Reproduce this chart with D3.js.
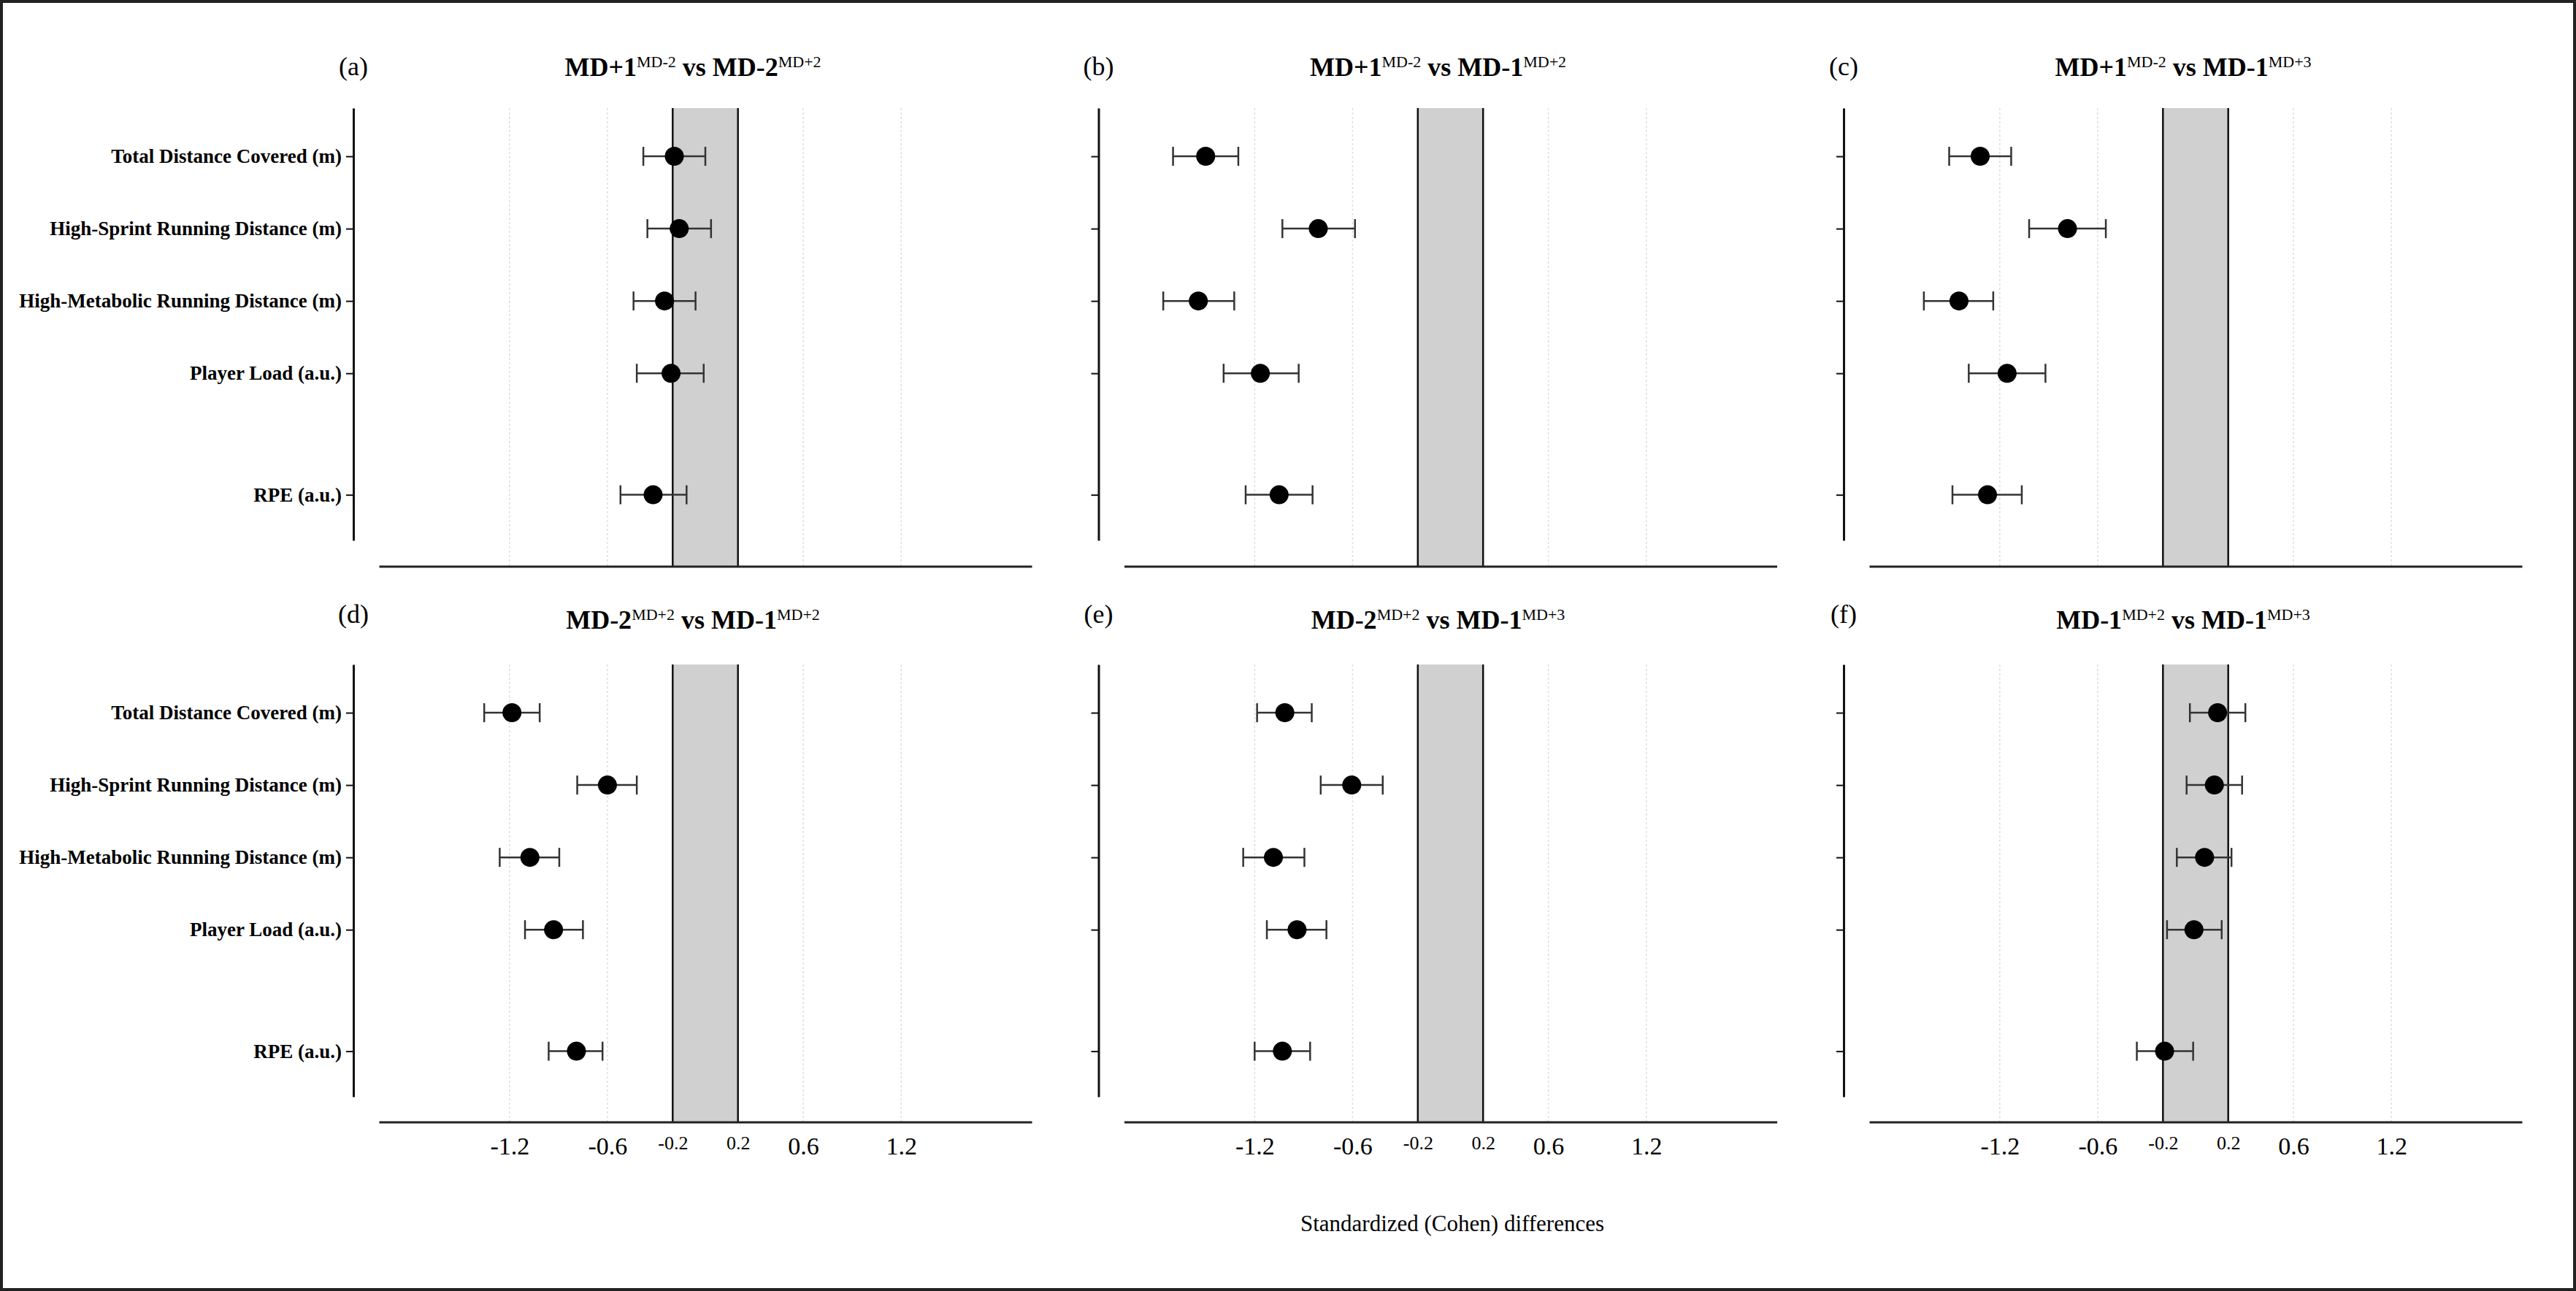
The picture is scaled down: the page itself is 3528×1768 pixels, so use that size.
<!DOCTYPE html>
<html>
<head>
<meta charset="utf-8">
<script src="https://cdn.jsdelivr.net/npm/d3@7"></script>
<style>
    body { margin: 0; background: #fff; }
    text { font-family: "Liberation Serif", "Times New Roman", serif; fill: #000; }
</style>
</head>
<body>
<div id="chart"></div>
<script>

// measures on the y axis (top to bottom)
const measures = [
    "Total Distance Covered (m)",
    "High-Sprint Running Distance (m)",
    "High-Metabolic Running Distance (m)",
    "Player Load (a.u.)",
    "RPE (a.u.)"
];

const panelLetters = ["(a)", "(b)", "(c)", "(d)", "(e)", "(f)"];

// comparison titles: base text and superscript for both sides
const titleMain = [["MD+1", "MD-2"], ["MD+1", "MD-1"], ["MD+1", "MD-1"], ["MD-2", "MD-1"], ["MD-2", "MD-1"], ["MD-1", "MD-1"]];
const titleSup = [["MD-2", "MD+2"], ["MD-2", "MD+2"], ["MD-2", "MD+3"], ["MD+2", "MD+2"], ["MD+2", "MD+3"], ["MD+2", "MD+3"]];

const xTickValues = [-1.2, -0.6, -0.2, 0.2, 0.6, 1.2];
const trivialBand = [-0.2, 0.2];
const xLabel = "Standardized (Cohen) differences";

// [effect size, lower CI, upper CI] per measure
const effectsA = [[-0.19, -0.38, 0.00], [-0.16, -0.355, 0.035], [-0.25, -0.44, -0.06], [-0.21, -0.42, -0.01], [-0.32, -0.52, -0.115]];
const effectsB = [[-1.50, -1.70, -1.30], [-0.81, -1.03, -0.585], [-1.545, -1.76, -1.325], [-1.165, -1.39, -0.93], [-1.05, -1.255, -0.845]];
const effectsC = [[-1.32, -1.51, -1.13], [-0.785, -1.02, -0.55], [-1.45, -1.665, -1.24], [-1.155, -1.39, -0.92], [-1.275, -1.49, -1.065]];
const effectsD = [[-1.185, -1.355, -1.015], [-0.60, -0.785, -0.42], [-1.075, -1.26, -0.895], [-0.93, -1.105, -0.75], [-0.79, -0.96, -0.63]];
const effectsE = [[-1.015, -1.185, -0.85], [-0.605, -0.795, -0.415], [-1.085, -1.27, -0.895], [-0.94, -1.125, -0.76], [-1.03, -1.20, -0.86]];
const effectsF = [[0.135, -0.035, 0.305], [0.115, -0.055, 0.285], [0.055, -0.115, 0.22], [-0.01, -0.175, 0.16], [-0.19, -0.36, -0.015]];

const allEffects = [effectsA, effectsB, effectsC, effectsD, effectsE, effectsF];


class ForestPanel {

    constructor(svg, index, effects) {
        this.svg = svg;
        this.index = index;
        this.effects = effects;
        this.initVis();
    }

    initVis() {
        let vis = this;

        vis.col = vis.index % 3;
        vis.row = Math.floor(vis.index / 3);

        // layout of the 2x3 grid
        vis.left = 519 + vis.col * 1020.5;
        vis.width = 894;
        vis.top = [148, 910][vis.row];
        vis.bottom = vis.top + 592;
        vis.axisY = [775.5, 1536.5][vis.row];
        vis.yAxisX = vis.left - 35;

        vis.g = vis.svg.append("g").attr("class", "panel");

        vis.x = d3.scaleLinear().domain([-2, 2]).range([vis.left, vis.left + vis.width]);

        // RPE row sits a little further down than the other four
        vis.rowPos = measures.map((m, i) => i < 4 ? i : 4.68);
        vis.y = d3.scaleLinear().domain([-0.667, 5.31]).range([vis.top, vis.bottom]);

        vis.drawFrame();
        vis.drawMarks();
    }

    drawFrame() {
        let vis = this;

        // light grid lines
        vis.g.selectAll(".grid")
            .data(xTickValues.filter(d => Math.abs(d) > 0.3))
            .enter().append("line")
            .attr("x1", d => vis.x(d)).attr("x2", d => vis.x(d))
            .attr("y1", vis.top).attr("y2", vis.axisY)
            .attr("stroke", "#dedede")
            .attr("stroke-width", 1.5)
            .attr("stroke-dasharray", "3,3");

        // trivial area
        vis.g.append("rect")
            .attr("x", vis.x(trivialBand[0]))
            .attr("y", vis.top)
            .attr("width", vis.x(trivialBand[1]) - vis.x(trivialBand[0]))
            .attr("height", vis.axisY - vis.top)
            .attr("fill", "#d0d0d0");

        vis.g.selectAll(".band-line")
            .data(trivialBand)
            .enter().append("line")
            .attr("x1", d => vis.x(d)).attr("x2", d => vis.x(d))
            .attr("y1", vis.top).attr("y2", vis.axisY)
            .attr("stroke", "#111")
            .attr("stroke-width", 2.5);

        // x axis
        let xAxis = d3.axisBottom(vis.x)
            .tickValues(xTickValues)
            .tickSize(0)
            .tickSizeOuter(0)
            .tickFormat(d => vis.row === 1 ? d3.format(".1f")(d).replace("−", "-") : "");

        let xg = vis.g.append("g")
            .attr("transform", `translate(0, ${vis.axisY})`)
            .call(xAxis);
        xg.select(".domain").attr("stroke", "#222").attr("stroke-width", 3);
        xg.selectAll("text")
            .attr("dy", 0)
            .attr("y", d => Math.abs(d) < 0.3 ? 37 : 44)
            .attr("font-size", d => Math.abs(d) < 0.3 ? 26 : 34)
            .attr("fill", "#000");

        // y axis
        let yAxis = d3.axisLeft(vis.y)
            .tickValues(vis.rowPos)
            .tickSize(10)
            .tickSizeOuter(0)
            .tickPadding(6)
            .tickFormat((d, i) => vis.col === 0 ? measures[i] : "");

        let yg = vis.g.append("g")
            .attr("transform", `translate(${vis.yAxisX}, 0)`)
            .call(yAxis);
        yg.select(".domain").attr("stroke", "#111").attr("stroke-width", 3);
        yg.selectAll(".tick line").attr("stroke", "#111").attr("stroke-width", 2);
        yg.selectAll("text")
            .attr("font-size", 27)
            .attr("font-weight", "bold")
            .attr("fill", "#000");

        // panel letter
        vis.g.append("text")
            .attr("x", vis.yAxisX)
            .attr("y", [103, 853][vis.row])
            .attr("text-anchor", "middle")
            .attr("font-size", 36)
            .text(panelLetters[vis.index]);

        // title with superscripts
        let title = vis.g.append("text")
            .attr("x", vis.x(0) - 17)
            .attr("y", [104, 861][vis.row])
            .attr("text-anchor", "middle")
            .attr("font-size", 36)
            .attr("font-weight", "bold");

        let main = titleMain[vis.index];
        let sup = titleSup[vis.index];
        title.append("tspan").text(main[0]);
        title.append("tspan").attr("dy", -12).attr("font-size", 22).attr("font-weight", "normal").text(sup[0]);
        title.append("tspan").attr("dy", 12).text(" vs " + main[1]);
        title.append("tspan").attr("dy", -12).attr("font-size", 22).attr("font-weight", "normal").text(sup[1]);
    }

    drawMarks() {
        let vis = this;

        let rows = vis.effects.map((e, i) => ({d: e[0], lo: e[1], hi: e[2], pos: vis.rowPos[i]}));

        let bars = vis.g.selectAll(".ci")
            .data(rows)
            .enter().append("g")
            .attr("class", "ci");

        bars.append("line")
            .attr("x1", d => vis.x(d.lo)).attr("x2", d => vis.x(d.hi))
            .attr("y1", d => vis.y(d.pos)).attr("y2", d => vis.y(d.pos))
            .attr("stroke", "#333").attr("stroke-width", 2.5);

        bars.append("line")
            .attr("x1", d => vis.x(d.lo)).attr("x2", d => vis.x(d.lo))
            .attr("y1", d => vis.y(d.pos) - 13).attr("y2", d => vis.y(d.pos) + 13)
            .attr("stroke", "#333").attr("stroke-width", 2.5);

        bars.append("line")
            .attr("x1", d => vis.x(d.hi)).attr("x2", d => vis.x(d.hi))
            .attr("y1", d => vis.y(d.pos) - 13).attr("y2", d => vis.y(d.pos) + 13)
            .attr("stroke", "#333").attr("stroke-width", 2.5);

        bars.append("circle")
            .attr("cx", d => vis.x(d.d))
            .attr("cy", d => vis.y(d.pos))
            .attr("r", 13)
            .attr("fill", "#000");
    }
}


// init drawing area
let svg = d3.select("#chart").append("svg")
    .attr("width", 3528)
    .attr("height", 1768);

svg.append("rect")
    .attr("width", 3528).attr("height", 1768)
    .attr("fill", "#fff");

allEffects.forEach((effects, i) => new ForestPanel(svg, i, effects));

// shared x label
svg.append("text")
    .attr("x", 1989)
    .attr("y", 1686)
    .attr("text-anchor", "middle")
    .attr("font-size", 31)
    .text(xLabel);

// outer frame
svg.append("rect")
    .attr("x", 2).attr("y", 2)
    .attr("width", 3524).attr("height", 1764)
    .attr("fill", "none")
    .attr("stroke", "#222")
    .attr("stroke-width", 4);

</script>
</body>
</html>
